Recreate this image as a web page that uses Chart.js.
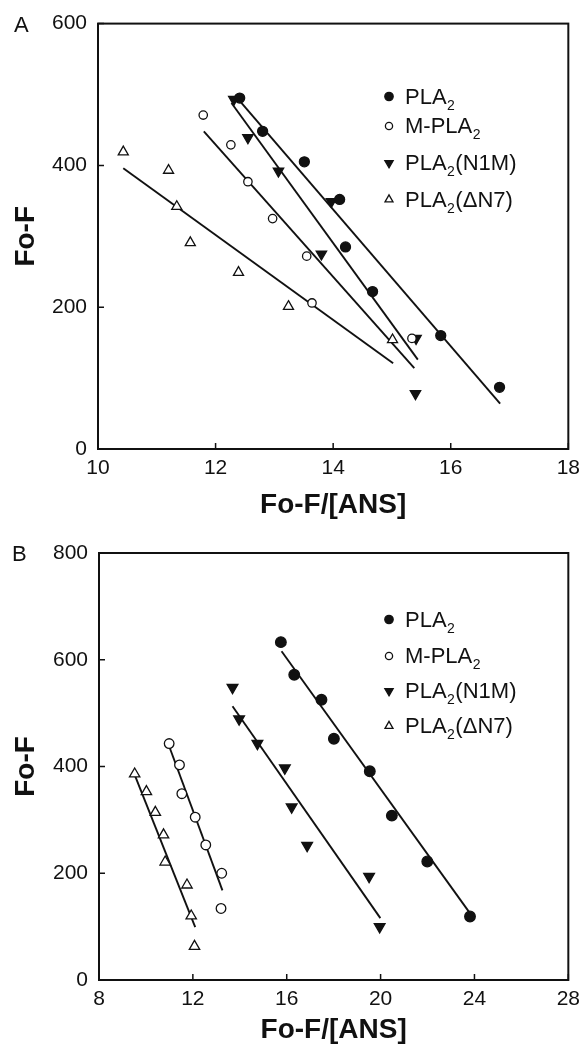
<!DOCTYPE html>
<html>
<head>
<meta charset="utf-8">
<script src="https://cdn.jsdelivr.net/npm/chart.js@4.4.1/dist/chart.umd.min.js"></script>
<style>
  body { margin: 0; background: #fff; }
  canvas { display: block; }
</style>
</head>
<body>
<canvas id="chartA" width="587" height="526"></canvas>
<canvas id="chartB" width="587" height="526"></canvas>
<script>
// panel A data
const aPlaX = [12.41, 12.80, 13.51, 14.11, 14.21, 14.67, 15.83, 16.83];
const aPlaY = [495, 448, 405, 352, 285, 222, 160, 87];
const aMplaX = [11.79, 12.26, 12.55, 12.97, 13.55, 13.64, 15.34];
const aMplaY = [471, 429, 377, 325, 272, 206, 156];
const aN1mX = [12.31, 12.55, 13.07, 13.97, 13.80, 15.41, 15.40];
const aN1mY = [493, 439, 392, 349, 275, 156, 78];
const aDn7X = [10.43, 11.20, 11.34, 11.57, 12.39, 13.24, 15.01];
const aDn7Y = [419, 393, 342, 291, 249, 201, 154];
// fitted lines, panel A (end points)
const aFitPlaX = [12.41, 16.84], aFitPlaY = [491, 64];
const aFitMplaX = [11.80, 15.38], aFitMplaY = [448, 114];
const aFitN1mX = [12.27, 15.44], aFitN1mY = [488, 126];
const aFitDn7X = [10.43, 15.02], aFitDn7Y = [396, 121];

// panel B data
const bPlaX = [15.75, 16.32, 17.48, 18.01, 19.54, 20.48, 21.99, 23.81];
const bPlaY = [633, 572, 525, 452, 391, 308, 222, 119];
const bMplaX = [10.99, 11.43, 11.53, 12.10, 12.55, 13.23, 13.20];
const bMplaY = [443, 403, 349, 305, 253, 200, 134];
const bN1mX = [13.69, 13.97, 14.75, 15.92, 16.21, 16.87, 19.51, 19.96];
const bN1mY = [548, 489, 443, 397, 324, 252, 194, 100];
const bDn7X = [9.52, 10.02, 10.40, 10.75, 10.82, 11.75, 11.93, 12.07];
const bDn7Y = [386, 353, 314, 272, 221, 178, 120, 63];
const bFitPlaX = [15.78, 23.86], bFitPlaY = [616, 122];
const bFitMplaX = [10.99, 13.26], bFitMplaY = [438, 168];
const bFitN1mX = [13.69, 19.99], bFitN1mY = [513, 116];
const bFitDn7X = [9.55, 12.10], bFitDn7Y = [381, 99];

const aXTicks = [10, 18, 2], aYTicks = [0, 600, 200];
const bXTicks = [8, 28, 4], bYTicks = [0, 800, 200];

const legendLabels = [['PLA', '2', ''], ['M-PLA', '2', ''], ['PLA', '2', '(N1M)'], ['PLA', '2', '(\u0394N7)']];

const fam = "'Liberation Sans', Arial, Helvetica, sans-serif";
const ink = '#111';
Chart.defaults.color = ink;
Chart.defaults.font.family = fam;

const marks = [
  { style: 'circle', r: 5, lr: 4.2, fill: ink, rot: 0 },
  { style: 'circle', r: 4.2, lr: 3.6, fill: '#fff', rot: 0 },
  { style: 'triangle', r: 6, lr: 4.8, fill: ink, rot: 180 },
  { style: 'triangle', r: 5.8, lr: 4.6, fill: '#fff', rot: 0 }
];

function pts(xs, ys) {
  return xs.map((x, i) => ({ x: x, y: ys[i] }));
}

function dots(xs, ys, m, grow) {
  return {
    data: pts(xs, ys), showLine: false, order: 1,
    pointStyle: m.style, pointRadius: m.r + (grow || 0), pointRotation: m.rot,
    pointBackgroundColor: m.fill, pointBorderColor: ink, pointBorderWidth: 1.3
  };
}

function fit(xs, ys) {
  return {
    data: pts(xs, ys), showLine: true, order: 2, pointRadius: 0,
    borderColor: ink, borderWidth: 1.9
  };
}

function drawMark(ctx, m, x, y, r) {
  ctx.beginPath();
  if (m.style === 'circle') {
    ctx.arc(x, y, r, 0, Math.PI * 2);
  } else {
    const s = m.rot ? -1 : 1;
    ctx.moveTo(x, y - s * r);
    ctx.lineTo(x + r * 0.866, y + s * r / 2);
    ctx.lineTo(x - r * 0.866, y + s * r / 2);
    ctx.closePath();
  }
  ctx.fillStyle = m.fill;
  ctx.fill();
  ctx.lineWidth = 1.3;
  ctx.strokeStyle = ink;
  ctx.stroke();
}

// box, inward ticks, panel letter and legend
const frame = {
  id: 'frame',
  afterDraw(chart, args, opts) {
    const { ctx, chartArea: a, scales } = chart;
    ctx.save();
    ctx.strokeStyle = ink;
    ctx.lineWidth = 2;
    ctx.strokeRect(a.left, a.top, a.right - a.left, a.bottom - a.top);
    ctx.lineWidth = 1.5;
    ctx.beginPath();
    scales.x.ticks.forEach(t => {
      const p = scales.x.getPixelForValue(t.value);
      ctx.moveTo(p, a.bottom); ctx.lineTo(p, a.bottom - 6);
    });
    scales.y.ticks.forEach(t => {
      const p = scales.y.getPixelForValue(t.value);
      ctx.moveTo(a.left, p); ctx.lineTo(a.left + 6, p);
    });
    ctx.stroke();

    ctx.fillStyle = ink;
    ctx.textBaseline = 'middle';
    ctx.font = '22px ' + fam;
    ctx.fillText(opts.letter, opts.letterX, a.top + 2);

    ctx.textBaseline = 'alphabetic';
    legendLabels.forEach((parts, i) => {
      const y = opts.legendRows[i];
      drawMark(ctx, marks[i], 389, y + 1, marks[i].lr);
      let x = 405;
      ctx.fillStyle = ink;
      ctx.font = '22px ' + fam;
      ctx.fillText(parts[0], x, y + 8);
      x += ctx.measureText(parts[0]).width + 0.5;
      ctx.font = '14px ' + fam;
      ctx.fillText(parts[1], x, y + 14);
      x += ctx.measureText(parts[1]).width + 0.5;
      ctx.font = '22px ' + fam;
      ctx.fillText(parts[2], x, y + 8);
    });
    ctx.restore();
  }
};

function scales(xt, yt, xH, yW, titleGap) {
  const tickFont = { family: fam, size: 21 };
  const titleFont = { family: fam, size: 28, weight: 'bold' };
  return {
    x: {
      type: 'linear', min: xt[0], max: xt[1],
      ticks: { stepSize: xt[2], padding: 7, font: tickFont, maxRotation: 0 },
      grid: { display: false, drawTicks: false },
      border: { display: false },
      title: { display: true, text: 'Fo-F/[ANS]', font: titleFont, padding: { top: 0, bottom: titleGap } },
      afterFit: s => { s.height = xH; }
    },
    y: {
      type: 'linear', min: yt[0], max: yt[1],
      ticks: { stepSize: yt[2], padding: 11, font: tickFont },
      grid: { display: false, drawTicks: false },
      border: { display: false },
      title: { display: true, text: 'Fo-F', font: titleFont, padding: { top: 9, bottom: 0 } },
      afterFit: s => { s.width = yW; }
    }
  };
}

let chartA = new Chart(document.getElementById('chartA'), {
  type: 'scatter',
  data: {
    datasets: [
      dots(aPlaX, aPlaY, marks[0]),
      dots(aMplaX, aMplaY, marks[1]),
      dots(aN1mX, aN1mY, marks[2]),
      dots(aDn7X, aDn7Y, marks[3]),
      fit(aFitPlaX, aFitPlaY),
      fit(aFitMplaX, aFitMplaY),
      fit(aFitN1mX, aFitN1mY),
      fit(aFitDn7X, aFitDn7Y)
    ]
  },
  options: {
    responsive: false,
    animation: false,
    layout: { padding: { top: 23, right: 13, left: 0, bottom: 0 } },
    scales: scales(aXTicks, aYTicks, 77, 98, 4),
    plugins: {
      legend: { display: false },
      tooltip: { enabled: false },
      frame: { letter: 'A', letterX: 14, legendRows: [95.5, 125, 162, 198.5] }
    }
  },
  plugins: [frame]
});

let chartB = new Chart(document.getElementById('chartB'), {
  type: 'scatter',
  data: {
    datasets: [
      dots(bPlaX, bPlaY, marks[0], 0.3),
      dots(bMplaX, bMplaY, marks[1], 0.6),
      dots(bN1mX, bN1mY, marks[2], 0.2),
      dots(bDn7X, bDn7Y, marks[3], 0.2),
      fit(bFitPlaX, bFitPlaY),
      fit(bFitMplaX, bFitMplaY),
      fit(bFitN1mX, bFitN1mY),
      fit(bFitDn7X, bFitDn7Y)
    ]
  },
  options: {
    responsive: false,
    animation: false,
    layout: { padding: { top: 27, right: 16, left: 0, bottom: 0 } },
    scales: scales(bXTicks, bYTicks, 72, 99, 5),
    plugins: {
      legend: { display: false },
      tooltip: { enabled: false },
      frame: { letter: 'B', letterX: 12, legendRows: [92.5, 129, 164, 199] }
    }
  },
  plugins: [frame]
});
</script>
</body>
</html>
